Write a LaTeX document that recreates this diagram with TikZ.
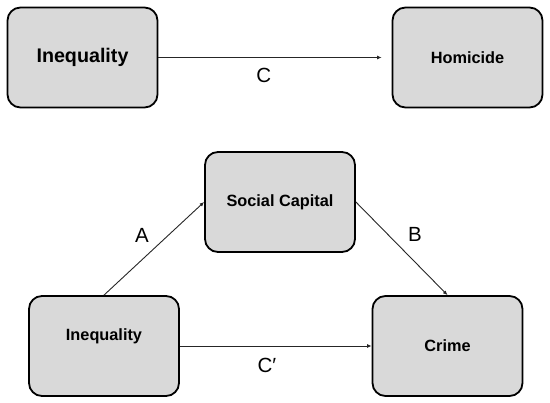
\documentclass[tikz,border=0pt]{standalone}
\usepackage{fontspec}
\setmainfont{Liberation Sans}
\usetikzlibrary{arrows.meta}
\definecolor{boxgray}{RGB}{217,217,217}
\definecolor{linegray}{RGB}{38,38,38}
\tikzstyle{varbox} = [rectangle, rounded corners=13pt, minimum width=150pt, minimum height=100pt, text centered, draw=black, line width=1.8pt, fill=boxgray, font=\bfseries\fontsize{16.3}{18}\selectfont]
\tikzstyle{pathlabel} = [font=\fontsize{20.5}{23}\selectfont, text=black]
\tikzstyle{arrow} = [line width=0.9pt, draw=linegray, -{Latex[length=4.5pt,width=4pt]}]

\begin{document}
\begin{tikzpicture}[x=1pt, y=-1pt, node distance=100pt]
\useasboundingbox (0,0) rectangle (550,403);

\node (ineqtop) [varbox, font=\bfseries\fontsize{19.7}{22}\selectfont] at (82.5,57.5) {Inequality};
\node (homicide) [varbox, right of=ineqtop, xshift=285pt] {Homicide};

\node (socialcap) [varbox, below of=ineqtop, xshift=197.5pt, yshift=-44.5pt] {Social Capital};
\node (ineqbot) [varbox, below of=socialcap, xshift=-176pt, yshift=-44pt, text depth=23pt] {Inequality};
\node (crime) [varbox, right of=ineqbot, xshift=243.5pt] {Crime};

\node (labC) [pathlabel, xshift=105.5pt, yshift=-18pt] at (ineqtop.east) {C};
\node (labA) [pathlabel, xshift=38pt, yshift=59.5pt] at (ineqbot.north) {A};
\node (labB) [pathlabel, xshift=59pt, yshift=-32pt] at (socialcap.east) {B};
\node (labCp) [pathlabel, xshift=87pt, yshift=-19.5pt] at (ineqbot.east) {C′};

\draw [arrow, shorten >=10pt] (ineqtop) -- (homicide);
\draw [arrow] (ineqbot.north) -- (socialcap.west);
\draw [arrow] (socialcap.east) -- (crime.north);
\draw [arrow] (ineqbot) -- (crime);

\end{tikzpicture}
\end{document}
